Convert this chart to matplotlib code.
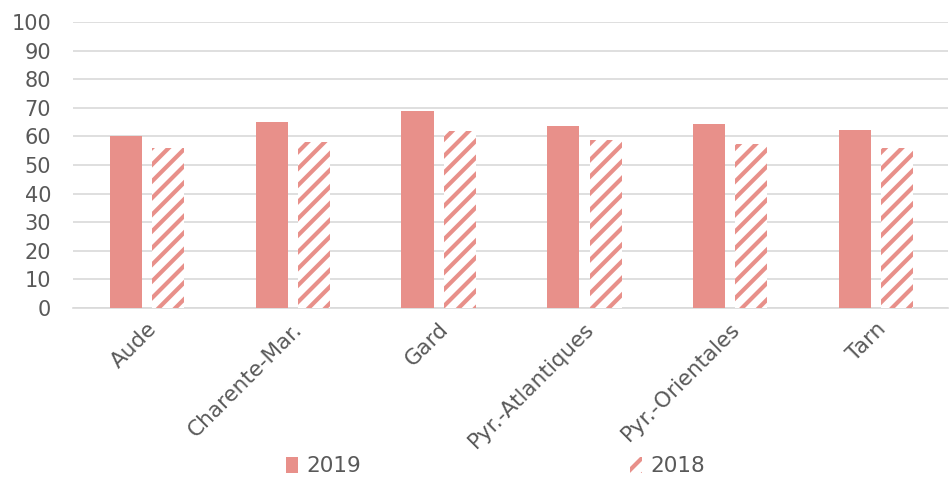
import matplotlib
matplotlib.use("Agg")
import matplotlib.pyplot as plt
import numpy as np

categories = ["Aude", "Charente-Mar.", "Gard", "Pyr.-Atlantiques", "Pyr.-Orientales", "Tarn"]
values_2019 = [60, 65, 69, 63.5, 64.2, 62.2]
values_2018 = [56, 58, 62, 58.7, 57.5, 56]
yticks = [0, 10, 20, 30, 40, 50, 60, 70, 80, 90, 100]

color = "#E8908A"
text_color = "#595959"
plt.rcParams["font.family"] = ["DejaVu Sans"]
plt.rcParams["hatch.linewidth"] = 3.0
plt.rcParams["hatch.color"] = color

fig = plt.figure(figsize=(9.53, 4.79), dpi=100)
ax = fig.add_axes([0.077, 0.357, 0.918, 0.597])

x = np.arange(len(categories))
w = 0.22
ax.bar(x - 0.14, values_2019, w, color=color, label="2019", zorder=3)
ax.bar(x + 0.15, values_2018, w, facecolor="white", edgecolor=color, hatch="//",
       linewidth=0, label="2018", zorder=3)

ax.set_xlim(-0.5, len(categories) - 0.5)
ax.set_ylim(0, 100)
ax.set_yticks(yticks)
ax.yaxis.grid(True, color="#D9D9D9", linewidth=1.2, zorder=0)
ax.set_axisbelow(True)
for s in ["top", "right", "left"]:
    ax.spines[s].set_visible(False)
ax.spines["bottom"].set_color("#D9D9D9")
ax.spines["bottom"].set_linewidth(1.2)
ax.tick_params(axis="both", length=0, colors=text_color, labelsize=15)
ax.tick_params(axis="x", labelsize=15.5, pad=8)
ax.tick_params(axis="y", pad=16)
ax.set_xticks(x)
ax.set_xticklabels(categories, rotation=45, ha="right", rotation_mode="anchor")

leg = fig.legend(loc="lower center", ncol=2, frameon=False, bbox_to_anchor=(0.52, -0.035),
                 fontsize=15.5, columnspacing=12.5, handlelength=0.55, handleheight=0.8,
                 handletextpad=0.4)
for t in leg.get_texts():
    t.set_color(text_color)

fig.savefig("out.png", dpi=100)
